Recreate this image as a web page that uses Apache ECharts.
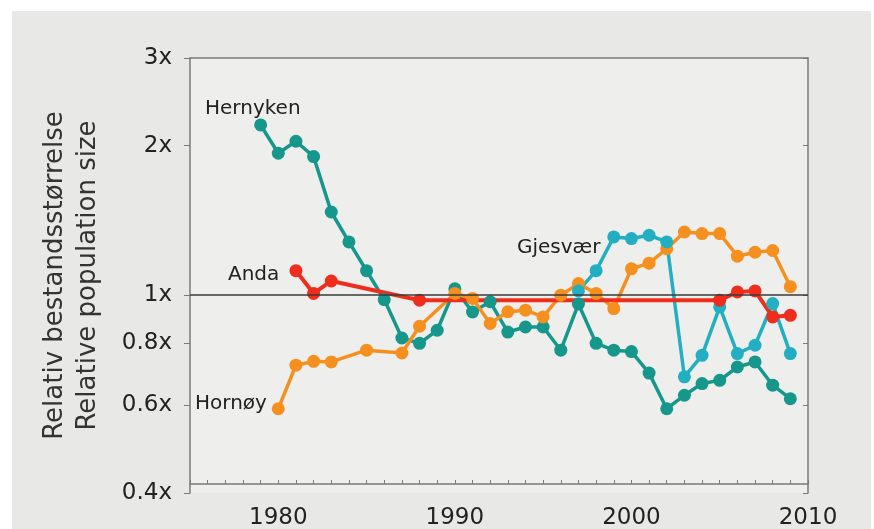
<!DOCTYPE html>
<html>
<head>
<meta charset="utf-8">
<script src="https://cdn.jsdelivr.net/npm/echarts@6/dist/echarts.min.js"></script>
<style>
  html, body { margin: 0; padding: 0; background: #ffffff; }
  #chart { position: absolute; left: 12px; top: 11px; width: 859px; height: 518px; }
</style>
</head>
<body>
<div id="chart"></div>
<script>
// ---- data ----
const years = [1979,1980,1981,1982,1983,1984,1985,1986,1987,1988,1989,1990,1991,1992,1993,1994,1995,1996,1997,1998,1999,2000,2001,2002,2003,2004,2005,2006,2007,2008,2009];
const hernyken = [2.20,1.93,2.04,1.90,1.47,1.28,1.12,0.98,0.82,0.80,0.85,1.03,0.925,0.97,0.843,0.863,0.863,0.775,0.96,0.80,0.775,0.77,0.697,0.591,0.629,0.664,0.674,0.717,0.734,0.659,0.619];
const hornoy   = [null,0.591,0.723,0.736,0.734,null,0.775,null,0.765,0.866,null,1.008,0.985,0.877,0.926,0.933,0.904,1.00,1.055,1.008,0.94,1.13,1.16,1.24,1.34,1.33,1.33,1.198,1.22,1.23,1.04];
const gjesvaer = [null,null,null,null,null,null,null,null,null,null,null,null,null,null,null,null,null,null,1.02,1.12,1.31,1.30,1.32,1.28,0.685,0.757,0.947,0.763,0.793,0.962,0.763];
const anda     = [null,null,1.12,1.008,1.068,null,null,null,null,0.977,null,null,null,null,null,null,null,null,null,null,null,null,null,null,null,null,0.977,1.015,1.02,0.904,0.911];
const yTickValues = [0.4,0.6,0.8,1,2,3];
const yTickLabels = ['0.4x','0.6x','0.8x','1x','2x','3x'];
const xLabelValues = [1980,1990,2000,2010];
const seriesNames = ['Hernyken','Hornøy','Gjesvær','Anda'];
const seriesColors = ['#15978b','#f5901f','#22afc2','#ef2d1c'];

function pairs(arr) {
  const out = [];
  years.forEach((y, i) => { if (arr[i] !== null) out.push([y, arr[i]]); });
  return out;
}

const FONT = 'DejaVu Sans';
const axisGray = '#7a7a7a';

const chart = echarts.init(document.getElementById('chart'), null, { renderer: 'canvas' });

function lineSeries(idx, arr, extra) {
  return Object.assign({
    name: seriesNames[idx],
    type: 'line',
    data: pairs(arr),
    symbol: 'circle',
    symbolSize: 13,
    lineStyle: { width: 3.5, color: seriesColors[idx] },
    itemStyle: { color: seriesColors[idx] },
    emphasis: { disabled: true },
    animation: false
  }, extra || {});
}

const option = {
  backgroundColor: '#e8e8e6',
  animation: false,
  grid: {
    left: 178, right: 63, top: 47, bottom: 36,
    containLabel: false,
    outerBoundsMode: 'none',
    show: true, backgroundColor: '#eeeeec', borderWidth: 0
  },
  xAxis: [{
    type: 'value', min: 1975, max: 2010, interval: 1,
    offset: -9,
    axisLine: { show: true, lineStyle: { color: axisGray, width: 1.5 } },
    axisTick: { show: true, inside: true, length: 4, lineStyle: { color: axisGray, width: 1 } },
    axisLabel: {
      customValues: xLabelValues,
      fontFamily: FONT, fontSize: 23, color: '#222', margin: 23,
      formatter: v => String(v)
    },
    splitLine: { show: false }
  }, {
    type: 'value', min: 1975, max: 2010, position: 'top',
    axisLine: { show: true, lineStyle: { color: axisGray, width: 1.5 } },
    axisTick: { show: false }, axisLabel: { show: false }, splitLine: { show: false }
  }],
  yAxis: [{
    type: 'log', min: 0.4, max: 3,
    axisLine: { show: true, lineStyle: { color: axisGray, width: 1.5 } },
    axisTick: { show: true, customValues: yTickValues, length: 6, lineStyle: { color: axisGray, width: 1 } },
    axisLabel: {
      customValues: yTickValues,
      fontFamily: FONT, fontSize: 23, color: '#222', margin: 18,
      formatter: v => { const i = yTickValues.findIndex(t => Math.abs(t - v) < 1e-6); return i >= 0 ? yTickLabels[i] : ''; }
    },
    splitLine: { show: false },
    minorTick: { show: false },
    name: 'Relativ bestandsstørrelse\nRelative population size',
    nameLocation: 'middle', nameRotate: 90, nameGap: 85,
    nameMoveOverlap: false,
    nameTextStyle: { fontFamily: FONT, fontSize: 26, lineHeight: 33, color: '#333', align: 'center' }
  }, {
    type: 'log', min: 0.4, max: 3, position: 'right',
    axisLine: { show: true, lineStyle: { color: axisGray, width: 1.5 } },
    axisTick: { show: true, inside: true, customValues: yTickValues, length: 5, lineStyle: { color: axisGray, width: 1 } },
    axisLabel: { show: false }, splitLine: { show: false }
  }],
  series: [
    lineSeries(0, hernyken, {
      markLine: {
        silent: true, symbol: 'none', label: { show: false },
        lineStyle: { color: '#3a3a3a', width: 1.5, type: 'solid' },
        data: [{ yAxis: 1 }],
        animation: false
      }
    }),
    lineSeries(1, hornoy),
    lineSeries(2, gjesvaer),
    lineSeries(3, anda, { lineStyle: { width: 4, color: seriesColors[3] } })
  ],
  graphic: [
    { type: 'text', left: 193, top: 88, style: { text: 'Hernyken', font: '20px "DejaVu Sans"', fill: '#222' } },
    { type: 'text', left: 216, top: 254, style: { text: 'Anda', font: '20px "DejaVu Sans"', fill: '#222' } },
    { type: 'text', left: 183, top: 383, style: { text: 'Hornøy', font: '20px "DejaVu Sans"', fill: '#222' } },
    { type: 'text', left: 505, top: 227, style: { text: 'Gjesvær', font: '20px "DejaVu Sans"', fill: '#222' } }
  ]
};
chart.setOption(option);
</script>
</body>
</html>
